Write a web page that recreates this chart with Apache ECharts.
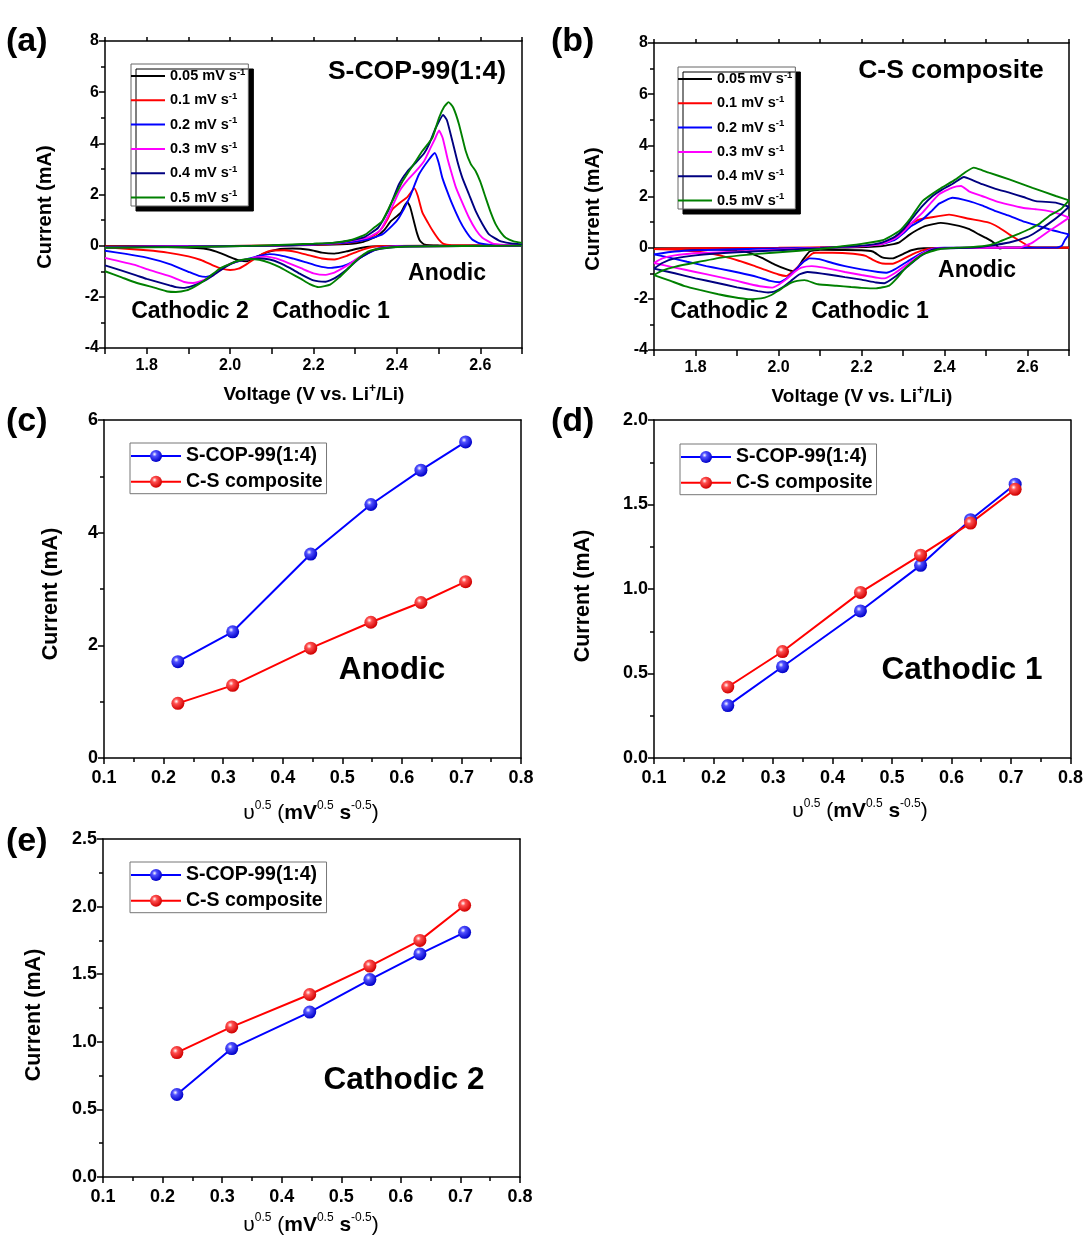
<!DOCTYPE html>
<html>
<head>
<meta charset="utf-8">
<script src="https://cdn.jsdelivr.net/npm/echarts@6/dist/echarts.min.js"></script>
<style>
  html, body { margin: 0; padding: 0; background: #fff; }
  #chart { width: 1086px; height: 1241px; }
</style>
</head>
<body>
<div id="chart"></div>
<script>
// ---------- scan rates ----------
const rateNames = ['0.05', '0.1', '0.2', '0.3', '0.4', '0.5'];
const cvColors = ['#000000', '#ff0000', '#0000ff', '#ff00ff', '#000080', '#008000'];

// ---------- (a) S-COP-99(1:4): CV sweeps, [voltage V, current mA] ----------
const copCath005 = [[2.70,0],[2.40,-0.01],[2.34,-0.03],[2.31,-0.1],[2.28,-0.22],[2.25,-0.31],[2.22,-0.27],[2.19,-0.16],[2.15,-0.11],[2.12,-0.13],[2.09,-0.25],[2.065,-0.42],[2.04,-0.61],[2.02,-0.57],[2.0,-0.45],[1.975,-0.28],[1.95,-0.15],[1.92,-0.09],[1.85,-0.05],[1.7,-0.03]];
const copAnod005 = [[1.7,-0.02],[2.0,-0.01],[2.2,0.02],[2.28,0.06],[2.32,0.15],[2.35,0.35],[2.37,0.62],[2.385,0.95],[2.40,1.15],[2.41,1.3],[2.418,1.55],[2.425,1.71],[2.432,1.5],[2.44,1.0],[2.448,0.5],[2.455,0.2],[2.465,0.05],[2.5,0.01],[2.7,0]];
const copCath01 = [[2.7,0],[2.38,-0.01],[2.34,-0.05],[2.31,-0.2],[2.28,-0.4],[2.25,-0.54],[2.22,-0.5],[2.19,-0.38],[2.16,-0.25],[2.13,-0.18],[2.10,-0.19],[2.08,-0.3],[2.06,-0.5],[2.04,-0.72],[2.02,-0.9],[2.0,-0.95],[1.98,-0.9],[1.96,-0.78],[1.93,-0.56],[1.90,-0.42],[1.85,-0.27],[1.8,-0.18],[1.75,-0.12],[1.7,-0.07]];
const copAnod01 = [[1.7,-0.03],[2.0,-0.01],[2.2,0.03],[2.28,0.1],[2.32,0.22],[2.35,0.45],[2.365,0.7],[2.378,1.05],[2.389,1.42],[2.405,1.65],[2.425,1.9],[2.442,2.24],[2.45,1.95],[2.461,1.3],[2.475,0.88],[2.487,0.55],[2.5,0.25],[2.512,0.07],[2.53,0.02],[2.7,0]];
const copCath02 = [[2.7,0],[2.4,-0.02],[2.36,-0.08],[2.33,-0.3],[2.30,-0.58],[2.27,-0.8],[2.24,-0.87],[2.21,-0.79],[2.18,-0.64],[2.15,-0.5],[2.12,-0.38],[2.095,-0.33],[2.07,-0.4],[2.047,-0.5],[2.015,-0.63],[1.99,-0.8],[1.97,-1.0],[1.955,-1.16],[1.942,-1.22],[1.925,-1.18],[1.9,-1.02],[1.855,-0.72],[1.8,-0.47],[1.75,-0.32],[1.7,-0.2]];
const copAnod02 = [[1.7,-0.05],[1.9,-0.02],[2.1,0.0],[2.2,0.04],[2.28,0.12],[2.33,0.25],[2.365,0.44],[2.39,0.8],[2.405,1.09],[2.43,1.87],[2.453,2.79],[2.477,3.37],[2.491,3.62],[2.50,3.25],[2.509,2.65],[2.52,2.15],[2.533,1.61],[2.55,1.0],[2.565,0.57],[2.58,0.25],[2.597,0.1],[2.63,0.03],[2.7,0.01]];
const copCath03 = [[2.7,0],[2.4,-0.03],[2.36,-0.1],[2.34,-0.2],[2.31,-0.45],[2.28,-0.78],[2.25,-1.05],[2.229,-1.14],[2.2,-1.08],[2.17,-0.88],[2.14,-0.68],[2.11,-0.5],[2.085,-0.43],[2.06,-0.46],[2.047,-0.52],[2.015,-0.62],[1.99,-0.8],[1.96,-1.15],[1.935,-1.36],[1.911,-1.46],[1.89,-1.42],[1.855,-1.19],[1.8,-0.92],[1.775,-0.77],[1.7,-0.48]];
const copAnod03 = [[1.7,-0.06],[1.9,-0.03],[2.1,0.0],[2.2,0.05],[2.27,0.14],[2.33,0.32],[2.36,0.6],[2.38,1.2],[2.405,2.1],[2.425,2.55],[2.445,2.9],[2.465,3.3],[2.48,3.8],[2.492,4.2],[2.501,4.50],[2.51,4.2],[2.521,3.43],[2.53,2.9],[2.541,2.3],[2.555,1.75],[2.573,1.09],[2.59,0.6],[2.605,0.31],[2.63,0.08],[2.66,0.03],[2.7,0.01]];
const copCath04 = [[2.7,0],[2.42,-0.03],[2.37,-0.1],[2.341,-0.2],[2.31,-0.5],[2.28,-0.93],[2.25,-1.28],[2.229,-1.41],[2.2,-1.36],[2.17,-1.12],[2.143,-0.87],[2.12,-0.68],[2.095,-0.54],[2.07,-0.5],[2.047,-0.52],[2.015,-0.62],[1.99,-0.82],[1.96,-1.15],[1.935,-1.4],[1.91,-1.57],[1.887,-1.65],[1.87,-1.62],[1.855,-1.55],[1.8,-1.3],[1.775,-1.16],[1.7,-0.77]];
const copAnod04 = [[1.7,-0.07],[1.9,-0.04],[2.1,0.0],[2.2,0.06],[2.27,0.15],[2.32,0.32],[2.355,0.7],[2.38,1.4],[2.405,2.4],[2.425,2.9],[2.445,3.24],[2.465,3.6],[2.477,3.96],[2.493,4.6],[2.511,5.11],[2.52,4.9],[2.533,4.09],[2.545,3.3],[2.557,2.65],[2.573,2.0],[2.589,1.35],[2.605,0.85],[2.621,0.44],[2.645,0.2],[2.67,0.1],[2.7,0.05]];
const copCath05 = [[2.7,0],[2.43,-0.03],[2.39,-0.06],[2.365,-0.1],[2.333,-0.21],[2.315,-0.4],[2.301,-0.6],[2.28,-0.95],[2.261,-1.25],[2.24,-1.52],[2.213,-1.62],[2.191,-1.5],[2.17,-1.3],[2.143,-1.06],[2.12,-0.85],[2.095,-0.67],[2.07,-0.55],[2.047,-0.52],[2.015,-0.61],[1.995,-0.75],[1.975,-0.9],[1.955,-1.15],[1.935,-1.4],[1.915,-1.6],[1.895,-1.75],[1.87,-1.81],[1.85,-1.79],[1.82,-1.65],[1.775,-1.45],[1.74,-1.24],[1.7,-1.0]];
const copAnod05 = [[1.7,-0.08],[1.9,-0.05],[2.05,-0.01],[2.15,0.05],[2.2,0.08],[2.245,0.11],[2.29,0.22],[2.325,0.44],[2.345,0.7],[2.365,0.96],[2.38,1.45],[2.397,2.0],[2.413,2.5],[2.429,2.91],[2.445,3.3],[2.461,3.7],[2.473,3.95],[2.485,4.21],[2.501,5.0],[2.513,5.42],[2.524,5.61],[2.535,5.4],[2.549,4.74],[2.565,3.7],[2.577,3.2],[2.589,2.91],[2.6,2.5],[2.613,1.87],[2.625,1.3],[2.637,0.83],[2.65,0.5],[2.661,0.31],[2.68,0.17],[2.7,0.11]];

// ---------- (b) C-S composite: CV sweeps ----------
const csCath005 = [[2.7,0],[2.35,-0.02],[2.32,-0.1],[2.30,-0.25],[2.275,-0.42],[2.25,-0.38],[2.227,-0.15],[2.2,-0.1],[2.1,-0.08],[2.075,-0.15],[2.06,-0.45],[2.045,-0.8],[2.035,-0.92],[2.02,-0.85],[1.99,-0.65],[1.96,-0.4],[1.93,-0.2],[1.9,-0.1],[1.8,-0.05],[1.7,-0.03]];
const csAnod005 = [[1.7,-0.03],[2.0,-0.01],[2.15,0.0],[2.25,0.06],[2.29,0.2],[2.315,0.5],[2.335,0.7],[2.355,0.85],[2.391,0.97],[2.435,0.85],[2.46,0.72],[2.483,0.52],[2.5,0.38],[2.515,0.24],[2.525,0.1],[2.53,0.0],[2.534,-0.03],[2.545,0.0],[2.7,0.0]];
const csCath01 = [[2.7,0],[2.4,-0.01],[2.36,-0.05],[2.33,-0.2],[2.30,-0.45],[2.275,-0.63],[2.25,-0.62],[2.23,-0.5],[2.21,-0.32],[2.18,-0.24],[2.13,-0.2],[2.09,-0.2],[2.08,-0.25],[2.06,-0.55],[2.04,-0.85],[2.018,-1.11],[2.0,-1.05],[1.97,-0.88],[1.94,-0.7],[1.906,-0.52],[1.87,-0.35],[1.826,-0.2],[1.78,-0.12],[1.745,-0.07],[1.7,-0.05]];
const csAnod01 = [[1.7,-0.05],[1.8,-0.02],[2.0,0.0],[2.2,0.05],[2.25,0.15],[2.28,0.4],[2.3,0.6],[2.315,0.91],[2.34,1.1],[2.363,1.17],[2.411,1.29],[2.459,1.13],[2.507,0.98],[2.53,0.8],[2.556,0.52],[2.588,0.2],[2.607,0.03],[2.62,0.0],[2.7,0.0]];
const csCath02 = [[2.7,0.52],[2.69,0.3],[2.683,0.08],[2.67,0.0],[2.4,0.0],[2.37,-0.05],[2.34,-0.25],[2.31,-0.55],[2.28,-0.85],[2.26,-0.98],[2.24,-0.95],[2.2,-0.85],[2.16,-0.72],[2.13,-0.6],[2.098,-0.45],[2.075,-0.42],[2.06,-0.55],[2.04,-0.88],[2.02,-1.2],[2.002,-1.35],[1.98,-1.3],[1.95,-1.15],[1.906,-0.98],[1.86,-0.83],[1.826,-0.72],[1.78,-0.55],[1.74,-0.4],[1.7,-0.26]];
const csAnod02 = [[1.7,-0.26],[1.75,-0.15],[1.8,-0.1],[1.9,-0.06],[2.0,-0.03],[2.1,0.0],[2.2,0.06],[2.25,0.15],[2.28,0.3],[2.3,0.55],[2.32,0.85],[2.347,1.1],[2.37,1.45],[2.387,1.72],[2.419,1.95],[2.459,1.82],[2.49,1.65],[2.523,1.43],[2.555,1.25],[2.588,1.04],[2.62,0.88],[2.652,0.72],[2.68,0.6],[2.7,0.52]];
const csCath03 = [[2.7,1.17],[2.68,0.95],[2.652,0.65],[2.63,0.4],[2.612,0.2],[2.59,0.05],[2.58,0.0],[2.4,-0.01],[2.37,-0.06],[2.34,-0.3],[2.31,-0.65],[2.28,-1.0],[2.255,-1.2],[2.24,-1.18],[2.2,-1.07],[2.16,-0.95],[2.13,-0.85],[2.1,-0.76],[2.08,-0.72],[2.055,-0.78],[2.04,-0.93],[2.02,-1.22],[2.0,-1.45],[1.985,-1.56],[1.96,-1.52],[1.93,-1.42],[1.9,-1.3],[1.85,-1.12],[1.8,-0.95],[1.75,-0.78],[1.7,-0.6]];
const csAnod03 = [[1.7,-0.6],[1.72,-0.42],[1.75,-0.3],[1.8,-0.22],[1.9,-0.15],[2.0,-0.08],[2.1,-0.01],[2.2,0.06],[2.25,0.15],[2.28,0.35],[2.3,0.6],[2.32,0.95],[2.347,1.37],[2.37,1.8],[2.387,2.09],[2.419,2.35],[2.44,2.41],[2.459,2.2],[2.49,2.02],[2.523,1.82],[2.555,1.68],[2.588,1.56],[2.62,1.5],[2.652,1.43],[2.68,1.3],[2.7,1.17]];
const csCath04 = [[2.7,1.6],[2.68,1.3],[2.652,0.95],[2.62,0.6],[2.6,0.42],[2.556,0.2],[2.507,0.07],[2.47,0.0],[2.4,-0.02],[2.37,-0.08],[2.34,-0.35],[2.31,-0.75],[2.28,-1.15],[2.255,-1.39],[2.235,-1.36],[2.2,-1.25],[2.16,-1.15],[2.12,-1.05],[2.09,-0.98],[2.07,-0.95],[2.05,-1.05],[2.03,-1.3],[2.01,-1.55],[1.99,-1.72],[1.975,-1.75],[1.95,-1.7],[1.9,-1.55],[1.85,-1.37],[1.8,-1.2],[1.75,-1.0],[1.7,-0.82]];
const csAnod04 = [[1.7,-0.82],[1.72,-0.6],[1.75,-0.42],[1.8,-0.3],[1.9,-0.18],[2.0,-0.1],[2.1,-0.02],[2.2,0.08],[2.25,0.2],[2.28,0.42],[2.3,0.7],[2.32,1.1],[2.347,1.63],[2.37,2.0],[2.395,2.28],[2.42,2.5],[2.447,2.76],[2.47,2.62],[2.491,2.48],[2.523,2.3],[2.556,2.15],[2.59,1.98],[2.62,1.82],[2.668,1.76],[2.7,1.6]];
const csCath05 = [[2.7,1.85],[2.68,1.5],[2.652,1.24],[2.63,0.95],[2.604,0.72],[2.58,0.55],[2.556,0.39],[2.53,0.22],[2.507,0.1],[2.47,0.03],[2.43,0.0],[2.387,-0.06],[2.347,-0.26],[2.307,-0.78],[2.285,-1.2],[2.267,-1.48],[2.235,-1.59],[2.2,-1.57],[2.175,-1.54],[2.14,-1.49],[2.095,-1.43],[2.063,-1.27],[2.045,-1.3],[2.031,-1.37],[2.015,-1.52],[1.999,-1.69],[1.983,-1.85],[1.967,-1.95],[1.945,-2.0],[1.927,-2.01],[1.89,-1.93],[1.855,-1.82],[1.81,-1.65],[1.774,-1.5],[1.74,-1.3],[1.7,-1.07]];
const csAnod05 = [[1.7,-1.07],[1.72,-0.9],[1.75,-0.75],[1.8,-0.58],[1.866,-0.38],[1.93,-0.27],[1.986,-0.2],[2.05,-0.12],[2.1,-0.05],[2.15,0.05],[2.2,0.15],[2.251,0.29],[2.291,0.65],[2.319,1.17],[2.347,1.82],[2.387,2.28],[2.427,2.67],[2.45,2.95],[2.471,3.13],[2.49,3.03],[2.507,2.93],[2.556,2.67],[2.612,2.34],[2.668,2.02],[2.7,1.85]];

// ---------- (c)-(e) peak currents vs square root of scan rate ----------
const sqrtRate  = [0.224, 0.316, 0.447, 0.548, 0.632, 0.707];
const anodicCop = [1.71, 2.24, 3.62, 4.50, 5.11, 5.61];
const anodicCs  = [0.97, 1.29, 1.95, 2.41, 2.76, 3.13];
const cath1Cop  = [0.31, 0.54, 0.87, 1.14, 1.41, 1.62];
const cath1Cs   = [0.42, 0.63, 0.98, 1.20, 1.39, 1.59];
const cath2Cop  = [0.61, 0.95, 1.22, 1.46, 1.65, 1.81];
const cath2Cs   = [0.92, 1.11, 1.35, 1.56, 1.75, 2.01];

const copName = 'S-COP-99(1:4)';
const csName = 'C-S composite';

// ---------- styling helpers ----------
const FONT = '"Liberation Sans", Arial, Helvetica, sans-serif';
const AX = { color: '#000', width: 1.5 };

const copSweeps = [[copCath005, copAnod005], [copCath01, copAnod01], [copCath02, copAnod02], [copCath03, copAnod03], [copCath04, copAnod04], [copCath05, copAnod05]];
const csSweeps = [[csCath005, csAnod005], [csCath01, csAnod01], [csCath02, csAnod02], [csCath03, csAnod03], [csCath04, csAnod04], [csCath05, csAnod05]];

function tenth(v) { return Math.round(v * 10); }

function bottomX(grid, min, max, interval, fmt, size, minor, margin) {
  return {
    gridIndex: grid, type: 'value', min: min, max: max, interval: interval,
    axisLine: { onZero: false, lineStyle: AX },
    axisTick: { show: true, inside: false, length: 6, lineStyle: AX },
    minorTick: { show: minor, splitNumber: 2, length: 4, lineStyle: AX },
    axisLabel: { formatter: fmt, fontSize: size, fontWeight: 'bold', color: '#000', fontFamily: FONT, margin: margin },
    splitLine: { show: false }, minorSplitLine: { show: false }
  };
}
function topX(grid, min, max, interval, ticks) {
  return {
    gridIndex: grid, type: 'value', position: 'top', min: min, max: max, interval: interval,
    axisLine: { onZero: false, lineStyle: AX },
    axisTick: { show: ticks, inside: false, length: 4, lineStyle: AX },
    axisLabel: { show: false }, splitLine: { show: false }
  };
}
function leftY(grid, min, max, interval, fmt, size) {
  return {
    gridIndex: grid, type: 'value', min: min, max: max, interval: interval,
    axisLine: { onZero: false, lineStyle: AX },
    axisTick: { show: true, inside: false, length: 6, lineStyle: AX },
    minorTick: { show: true, splitNumber: 2, length: 4, lineStyle: AX },
    axisLabel: { formatter: fmt, fontSize: size, fontWeight: 'bold', color: '#000', fontFamily: FONT, margin: 6 },
    splitLine: { show: false }, minorSplitLine: { show: false }
  };
}
function rightY(grid, min, max) {
  return {
    gridIndex: grid, type: 'value', position: 'right', min: min, max: max,
    axisLine: { show: true, onZero: false, lineStyle: AX },
    axisTick: { show: false }, axisLabel: { show: false }, splitLine: { show: false }
  };
}

const voltFmt = v => { const k = tenth(v); return (k % 2 === 0 && k > 17 && k < 27) ? (k / 10).toFixed(1) : ''; };
const oneDec = v => (Math.round(v * 10) / 10).toFixed(1);
const intFmt = v => String(Math.round(v));

// ---------- series ----------
const series = [];
function addCV(sweeps, axisIdx) {
  sweeps.forEach((pair, i) => {
    pair.forEach(sweep => {
      series.push({
        type: 'line', name: rateNames[i], xAxisIndex: axisIdx, yAxisIndex: axisIdx,
        data: sweep, symbol: 'none', showSymbol: false, smooth: 0.15,
        color: cvColors[i], lineStyle: { width: 1.9, color: cvColors[i] },
        silent: true, z: 2 + i
      });
    });
  });
}
addCV(copSweeps, 0);
addCV(csSweeps, 1);

function ball(light, dark) {
  return {
    type: 'radial', x: 0.38, y: 0.35, r: 0.65,
    colorStops: [{ offset: 0, color: '#ffffff' }, { offset: 0.3, color: light }, { offset: 1, color: dark }]
  };
}
const blueBall = ball('#5050ff', '#0000c8');
const redBall = ball('#ff5050', '#d00000');

function addPeak(values, axisIdx, name, lineColor, fill) {
  series.push({
    type: 'line', name: name, xAxisIndex: axisIdx, yAxisIndex: axisIdx,
    data: sqrtRate.map((x, i) => [x, values[i]]),
    symbol: 'circle', symbolSize: 13, showSymbol: true,
    color: lineColor,
    lineStyle: { width: 2, color: lineColor },
    itemStyle: { color: fill, borderWidth: 0 },
    silent: true, z: 5
  });
}
addPeak(anodicCop, 2, copName, '#0000ff', blueBall);
addPeak(anodicCs, 2, csName, '#ff0000', redBall);
addPeak(cath1Cop, 3, copName, '#0000ff', blueBall);
addPeak(cath1Cs, 3, csName, '#ff0000', redBall);
addPeak(cath2Cop, 4, copName, '#0000ff', blueBall);
addPeak(cath2Cs, 4, csName, '#ff0000', redBall);

// ---------- legends ----------
function cvLegend(left, top) {
  return {
    left: left, top: top, orient: 'vertical', data: rateNames,
    icon: 'rect', itemWidth: 34, itemHeight: 2, itemGap: 5.7,
    padding: [3, 3, 1, 0], selectedMode: false,
    backgroundColor: '#ffffff', borderColor: '#666', borderWidth: 1,
    shadowColor: '#000', shadowOffsetX: 5, shadowOffsetY: 5, shadowBlur: 0.01,
    formatter: n => '{t|' + n + ' mV s}{s|-1}',
    textStyle: {
      color: '#000', fontFamily: FONT,
      rich: {
        t: { fontSize: 14.5, fontWeight: 'bold', lineHeight: 18, fontFamily: FONT, color: '#000' },
        s: { fontSize: 9.5, fontWeight: 'bold', lineHeight: 9, verticalAlign: 'top', fontFamily: FONT, color: '#000' }
      }
    }
  };
}
function peakLegend(left, top) {
  return {
    left: left, top: top, orient: 'vertical', data: [copName, csName],
    itemWidth: 50, itemHeight: 15, itemGap: 5.7,
    padding: [3, 4, 2, 0], selectedMode: false,
    backgroundColor: '#ffffff', borderColor: '#777', borderWidth: 1,
    textStyle: { color: '#000', fontFamily: FONT, fontSize: 19.5, fontWeight: 'bold', lineHeight: 20 }
  };
}

// ---------- texts ----------
function label(x, y, text, size, align, extra) {
  return Object.assign({
    type: 'text', x: x, y: y, silent: true,
    style: { text: text, fontSize: size, fontWeight: 'bold', fontFamily: FONT, fill: '#000', align: align || 'center', verticalAlign: 'middle' }
  }, extra || {});
}
function vLabel(x, y, text, size) {
  return label(x, y, text, size, 'center', { rotation: Math.PI / 2 });
}
function richLabel(x, y, text, rich) {
  return {
    type: 'text', x: x, y: y, silent: true,
    style: { text: text, rich: rich, fontFamily: FONT, fill: '#000', align: 'center', verticalAlign: 'middle' }
  };
}
const voltRich = {
  m: { fontSize: 19, fontWeight: 'bold', lineHeight: 24, fontFamily: FONT, color: '#000' },
  p: { fontSize: 12, fontWeight: 'bold', lineHeight: 12, verticalAlign: 'top', fontFamily: FONT, color: '#000' }
};
const voltText = '{m|Voltage (V vs. Li}{p|+}{m|/Li)}';
const rateRich = {
  u: { fontSize: 21, lineHeight: 26, fontFamily: FONT, color: '#000' },
  r: { fontSize: 21, lineHeight: 26, fontFamily: FONT, color: '#000' },
  b: { fontSize: 21, fontWeight: 'bold', lineHeight: 26, fontFamily: FONT, color: '#000' },
  sn: { fontSize: 12, lineHeight: 13, verticalAlign: 'top', fontFamily: FONT, color: '#000' },
  sb: { fontSize: 12, lineHeight: 13, verticalAlign: 'top', fontFamily: FONT, color: '#000' }
};
const rateText = '{u|υ}{sn|0.5}{r| (}{b|mV}{sn|0.5}{b| s}{sb|-0.5}{r|)}';

const graphics = [
  label(6, 42, '(a)', 34, 'left'),
  label(551, 42, '(b)', 34, 'left'),
  label(6, 422, '(c)', 34, 'left'),
  label(551, 422, '(d)', 34, 'left'),
  label(6, 842, '(e)', 34, 'left'),

  label(417, 72, 'S-COP-99(1:4)', 26.5),
  label(951, 71, 'C-S composite', 26.5),
  label(447, 274, 'Anodic', 23),
  label(190, 312, 'Cathodic 2', 23),
  label(331, 312, 'Cathodic 1', 23),
  label(977, 271, 'Anodic', 23),
  label(729, 312, 'Cathodic 2', 23),
  label(870, 312, 'Cathodic 1', 23),
  label(392, 670, 'Anodic', 31.5),
  label(962, 670, 'Cathodic 1', 31.5),
  label(404, 1080, 'Cathodic 2', 31.5),

  vLabel(45, 207, 'Current (mA)', 20),
  vLabel(593, 209, 'Current (mA)', 20),
  vLabel(51, 594, 'Current (mA)', 21.5),
  vLabel(583, 596, 'Current (mA)', 21.5),
  vLabel(34, 1015, 'Current (mA)', 21.5),

  richLabel(314, 395, voltText, voltRich),
  richLabel(862, 397, voltText, voltRich),
  richLabel(311, 813, rateText, rateRich),
  richLabel(860, 811, rateText, rateRich),
  richLabel(311, 1225, rateText, rateRich)
];

const option = {
  animation: false,
  backgroundColor: '#ffffff',
  grid: [
    { left: 105, top: 41, width: 417, height: 307 },
    { left: 654, top: 43, width: 415, height: 307 },
    { left: 104, top: 420, width: 417, height: 338 },
    { left: 654, top: 420, width: 417, height: 338 },
    { left: 103, top: 839, width: 417, height: 338 }
  ],
  xAxis: [
    bottomX(0, 1.7, 2.7, 0.1, voltFmt, 16, false, 10),
    bottomX(1, 1.7, 2.7, 0.1, voltFmt, 16, false, 10),
    bottomX(2, 0.1, 0.8, 0.1, oneDec, 18, true, 11),
    bottomX(3, 0.1, 0.8, 0.1, oneDec, 18, true, 11),
    bottomX(4, 0.1, 0.8, 0.1, oneDec, 18, true, 11),
    topX(0, 1.7, 2.7, 0.1, true),
    topX(1, 1.7, 2.7, 0.1, true),
    topX(2, 0.1, 0.8, 0.1, false),
    topX(3, 0.1, 0.8, 0.1, false),
    topX(4, 0.1, 0.8, 0.1, false)
  ],
  yAxis: [
    leftY(0, -4, 8, 2, intFmt, 16),
    leftY(1, -4, 8, 2, intFmt, 16),
    leftY(2, 0, 6, 2, intFmt, 18),
    leftY(3, 0, 2, 0.5, oneDec, 18),
    leftY(4, 0, 2.5, 0.5, oneDec, 18),
    rightY(0, -4, 8), rightY(1, -4, 8), rightY(2, 0, 6), rightY(3, 0, 2), rightY(4, 0, 2.5)
  ],
  legend: [
    cvLegend(131, 64),
    cvLegend(678, 67),
    peakLegend(130, 443),
    peakLegend(680, 444),
    peakLegend(130, 862)
  ],
  graphic: graphics,
  series: series
};

// legend rows for the voltammograms are spaced a little wider than the default
option.legend[0].itemGap = 7.8;
option.legend[1].itemGap = 7.8;

const chart = echarts.init(document.getElementById('chart'), null, { renderer: 'canvas' });
chart.setOption(option);
</script>
</body>
</html>
